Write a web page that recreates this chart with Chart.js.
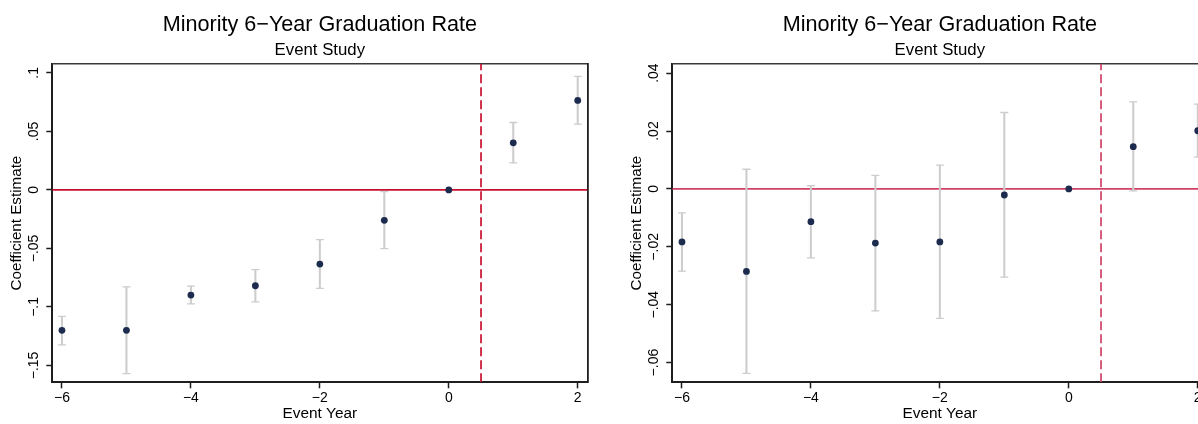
<!DOCTYPE html>
<html>
<head>
<meta charset="utf-8">
<script src="https://cdn.jsdelivr.net/npm/chart.js@4/dist/chart.umd.min.js"></script>
<style>
  html, body { margin: 0; padding: 0; background: #fff; width: 1198px; height: 424px; overflow: hidden; position: relative; }
  canvas { position: absolute; top: 0; }
  #leftChart { left: 0; }
  #rightChart { left: 620.4px; }
</style>
</head>
<body>
<canvas id="leftChart" width="599" height="424"></canvas>
<canvas id="rightChart" width="599" height="424"></canvas>
<script>
// ---------- data ----------
const eventYears = [-6, -5, -4, -3, -2, -1, 0, 1, 2];

const leftCoef = [-0.120, -0.120, -0.0899, -0.0819, -0.0634, -0.0260, 0, 0.0402, 0.0765];
const leftLow  = [-0.1325, -0.157, -0.0973, -0.0956, -0.0842, -0.0502, null, 0.0231, 0.0562];
const leftHigh = [-0.108, -0.0828, -0.0822, -0.0682, -0.0425, -0.0014, null, 0.0576, 0.0970];

const rightCoef = [-0.0183, -0.0285, -0.0113, -0.0187, -0.0183, -0.0021, 0, 0.0146, 0.0201];
const rightLow  = [-0.0284, -0.0637, -0.0238, -0.0421, -0.0447, -0.0305, null, -0.0007, 0.0110];
const rightHigh = [-0.0083, 0.0068, 0.0011, 0.0047, 0.0082, 0.0264, null, 0.0301, 0.0293];

const xTickValues = [-6, -4, -2, 0, 2];
const xTickLabels = ['\u22126', '\u22124', '\u22122', '0', '2'];
const leftYTickValues = [-0.15, -0.1, -0.05, 0, 0.05, 0.1];
const leftYTickLabels = ['\u2212.15', '\u2212.1', '\u2212.05', '0', '.05', '.1'];
const rightYTickValues = [-0.06, -0.04, -0.02, 0, 0.02, 0.04];
const rightYTickLabels = ['\u2212.06', '\u2212.04', '\u2212.02', '0', '.02', '.04'];

const xRange = [-6.15, 2.15];
const leftYRange = [-0.1644, 0.1077];
const rightYRange = [-0.0668, 0.0432];

const zeroLineY = 0;
const eventLineX = 0.5;

const chartTitle = 'Minority 6\u2212Year Graduation Rate';
const chartSubtitle = 'Event Study';
const xAxisTitle = 'Event Year';
const yAxisTitle = 'Coefficient Estimate';

// ---------- drawing ----------
const FONT = "'Liberation Sans', Arial, Helvetica, sans-serif";
Chart.defaults.font.family = FONT;
Chart.defaults.color = '#000';

function buildChart(canvasId, coef, low, high, yRange, yTickValues, yTickLabels, lineColor) {
  const idx = eventYears.map((_, i) => i).filter(i => low[i] !== null && high[i] !== null);
  const barData = idx.map(i => ({ x: eventYears[i], y: [low[i], high[i]] }));
  const capData = idx.flatMap(i => [{ x: eventYears[i], y: low[i] }, { x: eventYears[i], y: high[i] }]);
  const pointData = eventYears.map((x, i) => ({ x, y: coef[i] }));

  const axisColor = '#1e1e1e';
  const ciColor = '#cdcdcd';

  return new Chart(document.getElementById(canvasId), {
    type: 'scatter',
    data: {
      datasets: [
        {
          type: 'line',
          data: [{ x: xRange[0], y: zeroLineY }, { x: xRange[1], y: zeroLineY }],
          borderColor: lineColor, borderWidth: 1.7, pointRadius: 0, fill: false,
          showLine: true, order: 5
        },
        {
          type: 'line',
          data: [{ x: eventLineX, y: yRange[0] }, { x: eventLineX, y: yRange[1] }],
          borderColor: lineColor, borderWidth: 1.7, borderDash: [9, 4], pointRadius: 0, fill: false,
          showLine: true, order: 4
        },
        {
          type: 'bar',
          data: barData,
          backgroundColor: ciColor, borderWidth: 0, borderSkipped: false,
          barThickness: 1.4, grouped: false, order: 3
        },
        {
          type: 'scatter',
          data: capData,
          pointStyle: 'line', pointRadius: 4, borderColor: ciColor, pointBorderWidth: 1.3,
          borderWidth: 1.3, order: 2
        },
        {
          type: 'scatter',
          data: pointData,
          pointStyle: 'circle', pointRadius: 3.4, backgroundColor: '#1c2b4e', borderColor: '#1c2b4e',
          borderWidth: 0, order: 1
        }
      ]
    },
    options: {
      responsive: false,
      animation: false,
      devicePixelRatio: 1,
      layout: { padding: 0 },
      plugins: {
        legend: { display: false },
        tooltip: { enabled: false },
        title: {
          display: true, text: chartTitle, fullSize: false, color: '#000',
          font: { size: 21.6, weight: 'normal', family: FONT }, padding: { top: 11.8, bottom: 2.7 }
        },
        subtitle: {
          display: true, text: chartSubtitle, fullSize: false, color: '#000',
          font: { size: 16.8, weight: 'normal', family: FONT }, padding: { top: 0, bottom: 3.3 }
        }
      },
      scales: {
        x: {
          type: 'linear', position: 'bottom', min: xRange[0], max: xRange[1], offset: false,
          afterBuildTicks: s => { s.ticks = xTickValues.map(v => ({ value: v })); },
          afterFit: s => { s.height = 41.7; },
          ticks: {
            autoSkip: false, maxRotation: 0, minRotation: 0, padding: 1.6, color: '#000',
            font: { size: 14, family: FONT },
            callback: (v, i) => xTickLabels[i]
          },
          grid: { display: true, drawOnChartArea: false, drawTicks: true, tickLength: 6, color: axisColor, tickWidth: 1.5, offset: false },
          border: { display: true, color: axisColor, width: 2 },
          title: { display: true, text: xAxisTitle, color: '#000', font: { size: 15.4, family: FONT }, padding: { top: 0, bottom: 1 } }
        },
        y: {
          type: 'linear', position: 'left', min: yRange[0], max: yRange[1], beginAtZero: false,
          afterBuildTicks: s => { s.ticks = yTickValues.map(v => ({ value: v })); },
          afterFit: s => { s.width = 52.3; },
          ticks: {
            minRotation: 90, maxRotation: 90, crossAlign: 'center', align: 'end', padding: -8.2,
            color: '#000', font: { size: 14, family: FONT },
            callback: (v, i) => yTickLabels[i]
          },
          grid: { display: true, drawOnChartArea: false, drawTicks: true, tickLength: 6, color: axisColor, tickWidth: 1.5 },
          border: { display: true, color: axisColor, width: 2 },
          title: { display: true, text: yAxisTitle, color: '#000', font: { size: 15.2, family: FONT }, padding: { top: 7.4, bottom: 0 } }
        },
        xTop: {
          type: 'linear', position: 'top', min: xRange[0], max: xRange[1], offset: false,
          afterFit: s => { s.height = 0; },
          ticks: { display: false },
          grid: { display: false },
          border: { display: true, color: '#3a3a3a', width: 1.5 }
        },
        yRight: {
          type: 'linear', position: 'right', min: yRange[0], max: yRange[1],
          afterFit: s => { s.width = 11.6; },
          ticks: { display: false },
          grid: { display: false },
          border: { display: true, color: axisColor, width: 1.8 }
        }
      }
    }
  });
}

buildChart('leftChart', leftCoef, leftLow, leftHigh, leftYRange, leftYTickValues, leftYTickLabels, '#c8102e');
buildChart('rightChart', rightCoef, rightLow, rightHigh, rightYRange, rightYTickValues, rightYTickLabels, '#cf4266');
</script>
</body>
</html>
